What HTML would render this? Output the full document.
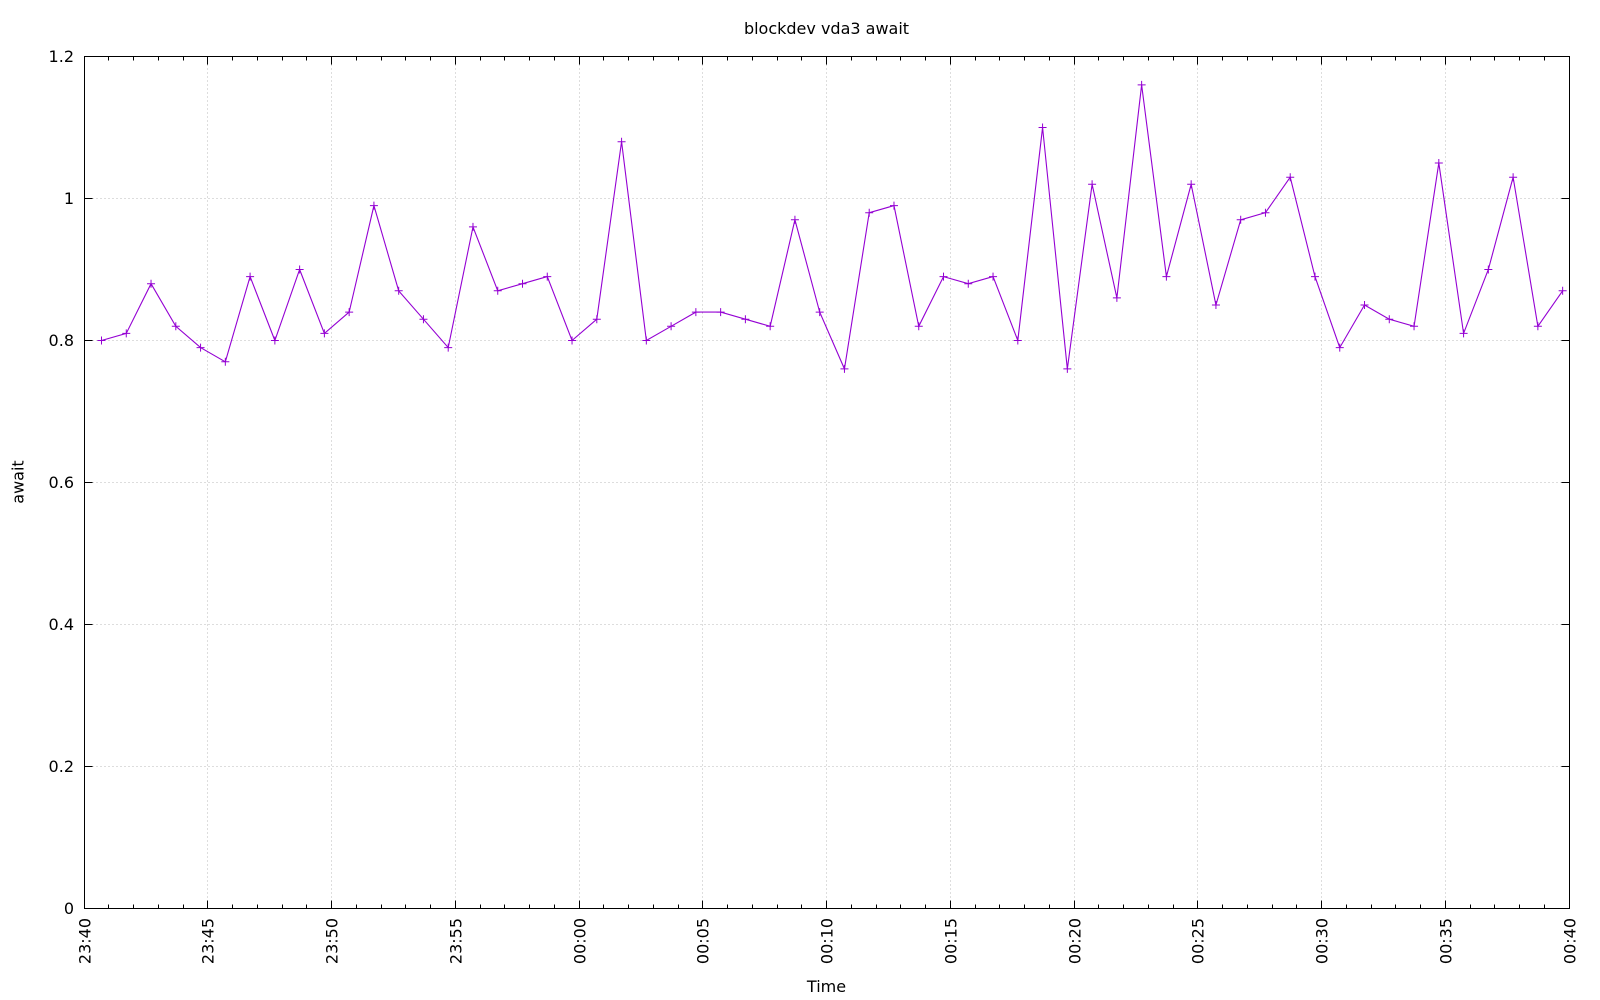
<!DOCTYPE html>
<html>
<head>
<meta charset="utf-8">
<style>
html,body{margin:0;padding:0;background:#fff;}
svg{display:block;}
text{font-family:"DejaVu Sans","Liberation Sans",sans-serif;font-size:16px;fill:#000;}
</style>
</head>
<body>
<svg width="1600" height="1000" viewBox="0 0 1600 1000" xmlns="http://www.w3.org/2000/svg">
<rect x="0" y="0" width="1600" height="1000" fill="#fff"/>
<defs>
<path id="p" d="M-4 0H4M0-4V4" stroke="#9400d3" stroke-width="1" fill="none"/>
</defs>
<!-- grid -->
<g stroke="#bbbbbb" stroke-width="1" stroke-dasharray="1 3" fill="none">
<path d="M207.5 56.5V908.5M331.5 56.5V908.5M455.5 56.5V908.5M579.5 56.5V908.5M702.5 56.5V908.5M826.5 56.5V908.5M950.5 56.5V908.5M1074.5 56.5V908.5M1197.5 56.5V908.5M1321.5 56.5V908.5M1445.5 56.5V908.5"/>
<path d="M84.5 766.5H1569.5M84.5 624.5H1569.5M84.5 482.5H1569.5M84.5 340.5H1569.5M84.5 198.5H1569.5"/>
</g>
<!-- ticks -->
<g stroke="#000" stroke-width="1" fill="none" shape-rendering="crispEdges">
<!-- y major left and right -->
<path d="M84.5 908.5h8M84.5 766.5h8M84.5 624.5h8M84.5 482.5h8M84.5 340.5h8M84.5 198.5h8M84.5 56.5h8"/>
<path d="M1569.5 908.5h-8M1569.5 766.5h-8M1569.5 624.5h-8M1569.5 482.5h-8M1569.5 340.5h-8M1569.5 198.5h-8M1569.5 56.5h-8"/>
<!-- x major bottom -->
<path d="M207.5 908.5v-8M331.5 908.5v-8M455.5 908.5v-8M579.5 908.5v-8M702.5 908.5v-8M826.5 908.5v-8M950.5 908.5v-8M1074.5 908.5v-8M1197.5 908.5v-8M1321.5 908.5v-8M1445.5 908.5v-8"/>
<!-- x major top -->
<path d="M207.5 56.5v8M331.5 56.5v8M455.5 56.5v8M579.5 56.5v8M702.5 56.5v8M826.5 56.5v8M950.5 56.5v8M1074.5 56.5v8M1197.5 56.5v8M1321.5 56.5v8M1445.5 56.5v8"/>
<!-- x minor bottom -->
<path d="M108.5 908.5v-4M133.5 908.5v-4M158.5 908.5v-4M183.5 908.5v-4M232.5 908.5v-4M257.5 908.5v-4M282.5 908.5v-4M306.5 908.5v-4M356.5 908.5v-4M381.5 908.5v-4M405.5 908.5v-4M430.5 908.5v-4M480.5 908.5v-4M504.5 908.5v-4M529.5 908.5v-4M554.5 908.5v-4M603.5 908.5v-4M628.5 908.5v-4M653.5 908.5v-4M678.5 908.5v-4M727.5 908.5v-4M752.5 908.5v-4M777.5 908.5v-4M801.5 908.5v-4M851.5 908.5v-4M876.5 908.5v-4M900.5 908.5v-4M925.5 908.5v-4M975.5 908.5v-4M999.5 908.5v-4M1024.5 908.5v-4M1049.5 908.5v-4M1098.5 908.5v-4M1123.5 908.5v-4M1148.5 908.5v-4M1173.5 908.5v-4M1222.5 908.5v-4M1247.5 908.5v-4M1272.5 908.5v-4M1296.5 908.5v-4M1346.5 908.5v-4M1371.5 908.5v-4M1395.5 908.5v-4M1420.5 908.5v-4M1470.5 908.5v-4M1494.5 908.5v-4M1519.5 908.5v-4M1544.5 908.5v-4"/>
<!-- x minor top -->
<path d="M108.5 56.5v4M133.5 56.5v4M158.5 56.5v4M183.5 56.5v4M232.5 56.5v4M257.5 56.5v4M282.5 56.5v4M306.5 56.5v4M356.5 56.5v4M381.5 56.5v4M405.5 56.5v4M430.5 56.5v4M480.5 56.5v4M504.5 56.5v4M529.5 56.5v4M554.5 56.5v4M603.5 56.5v4M628.5 56.5v4M653.5 56.5v4M678.5 56.5v4M727.5 56.5v4M752.5 56.5v4M777.5 56.5v4M801.5 56.5v4M851.5 56.5v4M876.5 56.5v4M900.5 56.5v4M925.5 56.5v4M975.5 56.5v4M999.5 56.5v4M1024.5 56.5v4M1049.5 56.5v4M1098.5 56.5v4M1123.5 56.5v4M1148.5 56.5v4M1173.5 56.5v4M1222.5 56.5v4M1247.5 56.5v4M1272.5 56.5v4M1296.5 56.5v4M1346.5 56.5v4M1371.5 56.5v4M1395.5 56.5v4M1420.5 56.5v4M1470.5 56.5v4M1494.5 56.5v4M1519.5 56.5v4M1544.5 56.5v4"/>
<!-- border -->
<rect x="84.5" y="56.5" width="1485" height="852"/>
</g>
<!-- data line -->
<polyline fill="none" stroke="#9400d3" stroke-width="1.1" stroke-linejoin="miter" points="101.5,340.5 126.27,333.4 151.03,283.7 175.8,326.3 200.56,347.6 225.33,361.8 250.09,276.6 274.86,340.5 299.62,269.5 324.39,333.4 349.15,312.1 373.92,205.6 398.68,290.8 423.45,319.2 448.21,347.6 472.98,226.9 497.74,290.8 522.51,283.7 547.27,276.6 572.04,340.5 596.8,319.2 621.57,141.7 646.33,340.5 671.1,326.3 695.86,312.1 720.63,312.1 745.39,319.2 770.16,326.3 794.92,219.8 819.69,312.1 844.45,368.9 869.22,212.7 893.98,205.6 918.75,326.3 943.51,276.6 968.28,283.7 993.04,276.6 1017.81,340.5 1042.57,127.5 1067.34,368.9 1092.1,184.3 1116.87,297.9 1141.63,84.9 1166.4,276.6 1191.16,184.3 1215.93,305 1240.69,219.8 1265.46,212.7 1290.22,177.2 1314.99,276.6 1339.75,347.6 1364.52,305 1389.28,319.2 1414.05,326.3 1438.81,163 1463.58,333.4 1488.34,269.5 1513.11,177.2 1537.87,326.3 1562.64,290.8"/>
<!-- markers -->
<g>
<use href="#p" x="101.5" y="340.5"/><use href="#p" x="126.27" y="333.4"/><use href="#p" x="151.03" y="283.7"/><use href="#p" x="175.8" y="326.3"/><use href="#p" x="200.56" y="347.6"/><use href="#p" x="225.33" y="361.8"/><use href="#p" x="250.09" y="276.6"/><use href="#p" x="274.86" y="340.5"/><use href="#p" x="299.62" y="269.5"/><use href="#p" x="324.39" y="333.4"/>
<use href="#p" x="349.15" y="312.1"/><use href="#p" x="373.92" y="205.6"/><use href="#p" x="398.68" y="290.8"/><use href="#p" x="423.45" y="319.2"/><use href="#p" x="448.21" y="347.6"/><use href="#p" x="472.98" y="226.9"/><use href="#p" x="497.74" y="290.8"/><use href="#p" x="522.51" y="283.7"/><use href="#p" x="547.27" y="276.6"/><use href="#p" x="572.04" y="340.5"/>
<use href="#p" x="596.8" y="319.2"/><use href="#p" x="621.57" y="141.7"/><use href="#p" x="646.33" y="340.5"/><use href="#p" x="671.1" y="326.3"/><use href="#p" x="695.86" y="312.1"/><use href="#p" x="720.63" y="312.1"/><use href="#p" x="745.39" y="319.2"/><use href="#p" x="770.16" y="326.3"/><use href="#p" x="794.92" y="219.8"/><use href="#p" x="819.69" y="312.1"/>
<use href="#p" x="844.45" y="368.9"/><use href="#p" x="869.22" y="212.7"/><use href="#p" x="893.98" y="205.6"/><use href="#p" x="918.75" y="326.3"/><use href="#p" x="943.51" y="276.6"/><use href="#p" x="968.28" y="283.7"/><use href="#p" x="993.04" y="276.6"/><use href="#p" x="1017.81" y="340.5"/><use href="#p" x="1042.57" y="127.5"/><use href="#p" x="1067.34" y="368.9"/>
<use href="#p" x="1092.1" y="184.3"/><use href="#p" x="1116.87" y="297.9"/><use href="#p" x="1141.63" y="84.9"/><use href="#p" x="1166.4" y="276.6"/><use href="#p" x="1191.16" y="184.3"/><use href="#p" x="1215.93" y="305"/><use href="#p" x="1240.69" y="219.8"/><use href="#p" x="1265.46" y="212.7"/><use href="#p" x="1290.22" y="177.2"/><use href="#p" x="1314.99" y="276.6"/>
<use href="#p" x="1339.75" y="347.6"/><use href="#p" x="1364.52" y="305"/><use href="#p" x="1389.28" y="319.2"/><use href="#p" x="1414.05" y="326.3"/><use href="#p" x="1438.81" y="163"/><use href="#p" x="1463.58" y="333.4"/><use href="#p" x="1488.34" y="269.5"/><use href="#p" x="1513.11" y="177.2"/><use href="#p" x="1537.87" y="326.3"/><use href="#p" x="1562.64" y="290.8"/>
</g>
<!-- y tick labels -->
<g text-anchor="end">
<text x="74" y="914">0</text>
<text x="74" y="772">0.2</text>
<text x="74" y="630">0.4</text>
<text x="74" y="488">0.6</text>
<text x="74" y="346">0.8</text>
<text x="74" y="204">1</text>
<text x="74" y="62">1.2</text>
</g>
<!-- x tick labels -->
<g text-anchor="end">
<text transform="translate(84.5,918) rotate(-90)" dy="0.36em">23:40</text>
<text transform="translate(207.5,918) rotate(-90)" dy="0.36em">23:45</text>
<text transform="translate(331.5,918) rotate(-90)" dy="0.36em">23:50</text>
<text transform="translate(455.5,918) rotate(-90)" dy="0.36em">23:55</text>
<text transform="translate(579.5,918) rotate(-90)" dy="0.36em">00:00</text>
<text transform="translate(702.5,918) rotate(-90)" dy="0.36em">00:05</text>
<text transform="translate(826.5,918) rotate(-90)" dy="0.36em">00:10</text>
<text transform="translate(950.5,918) rotate(-90)" dy="0.36em">00:15</text>
<text transform="translate(1074.5,918) rotate(-90)" dy="0.36em">00:20</text>
<text transform="translate(1197.5,918) rotate(-90)" dy="0.36em">00:25</text>
<text transform="translate(1321.5,918) rotate(-90)" dy="0.36em">00:30</text>
<text transform="translate(1445.5,918) rotate(-90)" dy="0.36em">00:35</text>
<text transform="translate(1569.5,918) rotate(-90)" dy="0.36em">00:40</text>
</g>
<!-- titles -->
<text x="826.5" y="34" text-anchor="middle">blockdev vda3 await</text>
<text x="826.5" y="992" text-anchor="middle">Time</text>
<text transform="translate(23.5,482) rotate(-90)" text-anchor="middle">await</text>
</svg>
</body>
</html>
